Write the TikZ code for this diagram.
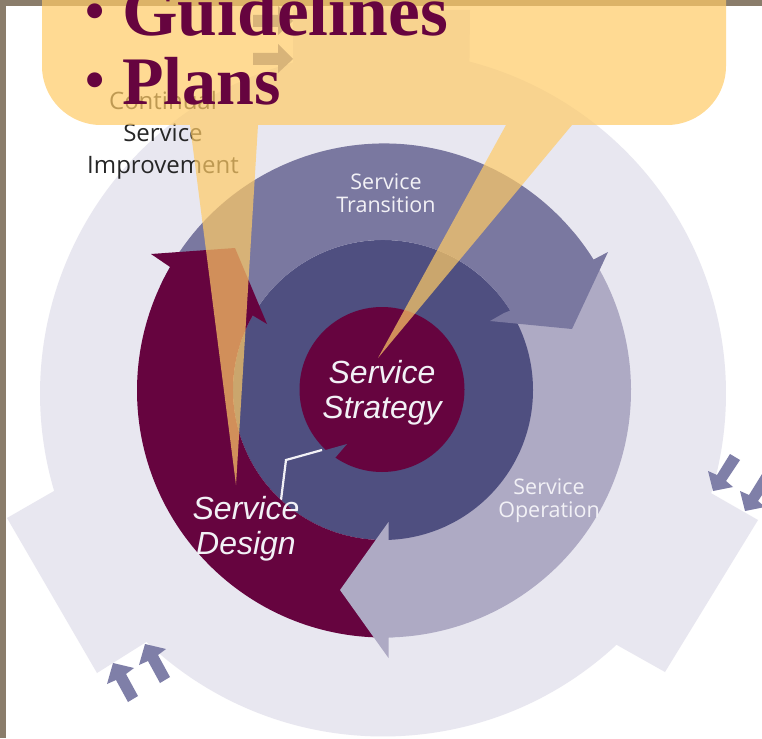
\documentclass[tikz,border=0pt]{standalone}
\usepackage{fontspec}
\setmainfont{Liberation Serif}
\newfontfamily\armfont{Liberation Sans}
\newfontfamily\humfont{Open Sans}
\definecolor{plum}{HTML}{66043F}
\definecolor{ringout}{HTML}{E8E7F0}
\definecolor{ringop}{HTML}{AEAAC4}
\definecolor{ringtr}{HTML}{7A78A0}
\definecolor{ringdark}{HTML}{4F4F80}
\definecolor{smallarr}{HTML}{7F7FA8}
\definecolor{frameband}{HTML}{8A7D6B}
\definecolor{callout}{HTML}{FFCB66}
\definecolor{softwhite}{HTML}{F2F1F6}
\tikzset{
  mainlabel/.style={inner sep=0pt,align=center,text=softwhite,font=\armfont\itshape\fontsize{32}{35}\selectfont},
  ringlabel/.style={inner sep=0pt,align=center,text=softwhite,font=\humfont\fontsize{21.5}{23}\selectfont},
  csilabel/.style={inner sep=0pt,align=center,text=black!85,font=\humfont\fontsize{24}{32}\selectfont},
  bigline/.style={inner sep=0pt,anchor=base west,text=plum,font=\bfseries},
  smallarrow/.style={fill=smallarr,draw=none},
}
\newcommand{\bigbullet}{\makebox[37pt][l]{\raisebox{6pt}{\fontsize{55}{55}\selectfont •}}}
\begin{document}
\begin{tikzpicture}[x=1pt,y=-1pt]
\clip (0,0) rectangle (762,738);
\fill[white] (0,0) rectangle (762,738);
% frame bands
\fill[frameband] (0,0) rectangle (762,6);
\fill[frameband] (0,0) rectangle (6,738);
% outer ring with three wings
\fill[ringout] ([shift={(-75.4:343)}]383,393.5)
  arc[start angle=-75.4,end angle=16.9,radius=343]
  -- (758,520) -- (665,672) -- ([shift={(47.1:343)}]383,393.5)
  arc[start angle=47.1,end angle=133.6,radius=343]
  -- (97,673) -- (7,518) -- ([shift={(163.5:343)}]383,393.5)
  arc[start angle=163.5,end angle=254.8,radius=343]
  -- (293,10) -- (470,10) -- cycle;
% small arrows
\foreach \dx/\dy in {0/0,32/-19}{
  \fill[smallarrow,shift={(\dx,\dy)}] (113,663) -- (134,668) -- (126,674) -- (138,696) -- (128,702) -- (116,680) -- (107,684) -- cycle;
}
\foreach \dx/\dy in {0/0,32/20}{
  \fill[smallarrow,shift={(\dx,\dy)}] (713,491) -- (708,471) -- (717,475) -- (730,454) -- (740,460) -- (726,481) -- (733,487) -- cycle;
}
\foreach \dy in {0,-38}{
  \fill[smallarrow,shift={(0,\dy)}] (293,59) -- (278,44) -- (278,53) -- (253,53) -- (253,65) -- (278,65) -- (278,73) -- cycle;
}
% service operation body
\fill[ringop] ([shift={(-40:247)}]384,390.5)
  arc[start angle=-40,end angle=90,radius=247]
  -- ([shift={(90:148)}]383,390)
  arc[start angle=90,end angle=-40,radius=148]
  -- cycle;
% dark ring and core
\fill[ringdark] (383,390) circle[radius=150];
\fill[plum] (382,389.5) circle[radius=82.5];
\fill[ringdark] (322,451) -- (347,444) -- (335,458) -- (315,470) -- cycle;
\draw[softwhite,line width=2.2pt,line join=miter] (322,450) -- (286,460) -- (281,500);
% service transition arrow
\fill[ringtr] ([shift={(205:247)}]384,390.5)
  arc[start angle=205,end angle=328,radius=247]
  -- (608,252) -- (572,329) -- (490,321) -- (504,313) -- ([shift={(328:150)}]383,390)
  arc[start angle=328,end angle=205,radius=150]
  -- cycle;
% service design arrow
\fill[plum] ([shift={(89.07:247)}]384,390.5)
  arc[start angle=89.07,end angle=210,radius=247]
  -- (151,254) -- (235,248) -- (267,324) -- ([shift={(209.8:150)}]383,390)
  arc[start angle=209.8,end angle=88,radius=150]
  -- cycle;
% service operation head
\fill[ringop] (388.5,522) -- (340,590) -- (388.5,658) -- (388.5,637.4) -- (393,637.4) -- (393,540) -- (388.5,540) -- cycle;
% labels
\node[mainlabel] (strategy) at (382,393) {Service\\Strategy};
\node[mainlabel] (design) at (246,529) {Service\\Design};
\node[ringlabel] (transition) at (386,193) {Service\\Transition};
\node[ringlabel] (operation) at (549,501) {Service\\Operation};
\node[csilabel] (csi) at (163,135.5) {Continual\\Service\\Improvement};
% callout
\fill[callout,fill opacity=.7] (42,-60) -- (42,66)
  arc[start angle=180,end angle=90,radius=59]
  -- (190,125) -- (236,485) -- (258,125)
  -- (506,125) -- (378,358) -- (572,125) -- (667,125)
  arc[start angle=90,end angle=0,radius=59]
  -- (726,-60) -- cycle;
\node[bigline] (guidelines) at (85,36) {\fontsize{71.5}{71.5}\selectfont\bigbullet Guidelines};
\node[bigline] (plans) at (85,105) {\fontsize{68}{68}\selectfont\bigbullet Plans};
\end{tikzpicture}
\end{document}
